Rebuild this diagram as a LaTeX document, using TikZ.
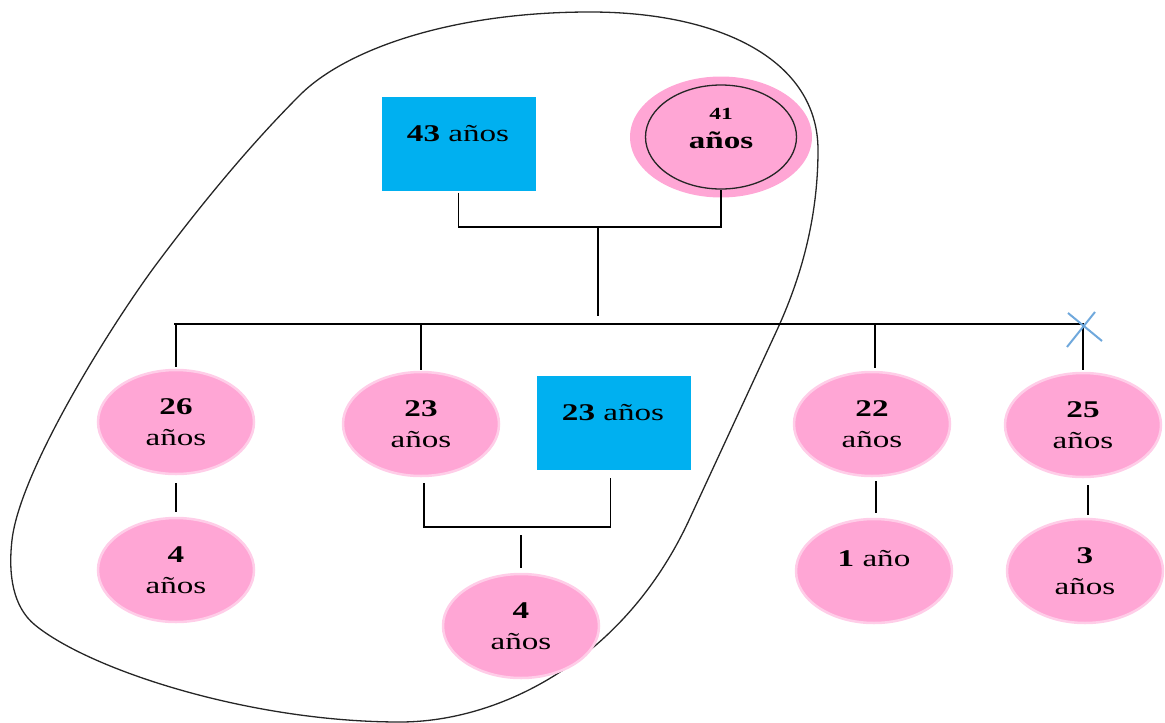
\documentclass[tikz,border=0pt]{standalone}
\usepackage{fontspec}
\setmainfont{Liberation Serif}[FakeStretch=1.38]
\usetikzlibrary{shapes.geometric,calc}
\definecolor{pinkfill}{HTML}{FFA6D5}
\definecolor{pinkedge}{HTML}{FFCDE8}
\definecolor{cyanbox}{HTML}{00B0F0}
\definecolor{xblue}{HTML}{6FA8DC}
\begin{document}
\begin{tikzpicture}[x=1pt,y=-1pt,
  person/.style={ellipse, fill=pinkfill, draw=pinkedge, line width=2.5pt,
    minimum width=156pt, minimum height=104pt, inner sep=0pt, align=center,
    font=\fontsize{24}{31}\selectfont},
  malebox/.style={rectangle, fill=cyanbox, draw=none, minimum width=154pt,
    minimum height=94pt, inner sep=0pt},
  lbl/.style={font=\fontsize{24}{31}\selectfont, align=center, inner sep=0pt},
  link/.style={line width=1.3pt, black},
  loop/.style={line width=1.3pt, black!85}]
\useasboundingbox (0,0) rectangle (1165,723);

% enclosing loop
\draw[loop] (590,12) .. controls (720,12) and (818,60) .. (818,150)
  .. controls (818,220) and (800,280) .. (777,330)
  -- (690,518)
  .. controls (625,660) and (500,722) .. (400,722)
  .. controls (250,722) and (90,670) .. (35,625)
  .. controls (13,607) and (8,575) .. (12,540)
  .. controls (20,470) and (113,322) .. (158,262)
  .. controls (218,182) and (265,130) .. (300,95)
  .. controls (345,50) and (450,12) .. cycle;

% parents
\node[malebox] (f43) at (458.5,143.5) {};
\node[lbl] (t43) at (458,134) {\textbf{43} años};
\node[ellipse, fill=pinkfill, draw=none, minimum width=182pt, minimum height=121pt] (m41) at (721,137) {};
\node[ellipse, draw=black!85, line width=1.3pt, minimum width=151pt, minimum height=104pt] (m41in) at (721,137) {};
\node[lbl] (t41) at (721,129) {{\fontsize{17}{22}\selectfont\textbf{41}}\\[-2pt]\textbf{años}};

% parents connection
\coordinate (cpl) at (598,227);
\draw[link] ([yshift=-2pt]f43.south) |- (cpl) -| (m41in.south);

% siblings line
\coordinate (hl) at (174,324);
\coordinate (hr) at (1084,324);
\draw[link] (hl) -- (hr);
\draw[link] (cpl) -- ($(cpl |- hl)+(0,-8)$);

% children
\node[person] (c26) at (176,422) {\textbf{26}\\años};
\node[person] (c23) at (421,424) {\textbf{23}\\años};
\node[malebox] (p23) at (613.5,423) {};
\node[lbl] (t23) at (613,413) {\textbf{23} años};
\node[person] (c22) at (872,424) {\textbf{22}\\años};
\node[person] (c25) at (1083,425) {\textbf{25}\\años};

\draw[link] (c26.north |- hl) -- ([yshift=2pt]c26.north);
\draw[link] (c23.north |- hl) -- ([yshift=1pt]c23.north);
\draw[link] ([xshift=3pt]c22.north |- hl) -- ([xshift=3pt,yshift=3pt]c22.north);
\draw[link] (c25.north |- hl) -- ([yshift=2pt]c25.north);

% death mark
\coordinate (xm) at (1084,328);
\draw[xblue, line width=2pt] ($(xm)+(-16,-15)$) -- ($(xm)+(18,13)$);
\draw[xblue, line width=2pt] ($(xm)+(11,-16)$) -- ($(xm)+(-17,19)$);

% grandchildren
\node[person] (g26) at (176,570) {\textbf{4}\\años};
\node[person] (g23) at (521,626) {\textbf{4}\\años};
\node[person] (g22) at (874,571) {};
\node[lbl] (t1) at (874,559) {\textbf{1} año};
\node[person] (g25) at (1085,571) {\textbf{3}\\años};

\draw[link] ([yshift=-8pt]c26.south) -- ([yshift=5pt]g26.north);
\coordinate (cpl2) at (521,527);
\draw[link] ([xshift=3pt,yshift=-6pt]c23.south) |- (cpl2) -| ([xshift=-3pt,yshift=-8pt]p23.south);
\draw[link] ([yshift=-8pt]cpl2) -- ([yshift=5pt]g23.north);
\draw[link] ([xshift=4pt,yshift=-4pt]c22.south) -- ([xshift=2pt,yshift=5pt]g22.north);
\draw[link] ([xshift=5pt,yshift=-7pt]c25.south) -- ([xshift=3pt,yshift=3pt]g25.north);
\end{tikzpicture}
\end{document}
